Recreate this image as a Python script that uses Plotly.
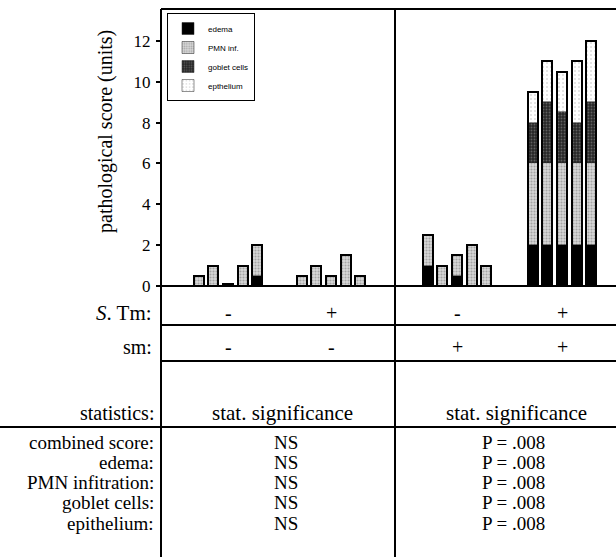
import plotly.graph_objects as go

# ---------------- data ----------------
groups = ["S.Tm- sm-", "S.Tm+ sm-", "S.Tm- sm+", "S.Tm+ sm+"]
stm_signs = ["-", "+", "-", "+"]
sm_signs = ["-", "-", "+", "+"]

edema = [[0, 0, 0.1, 0, 0.5],
         [0, 0, 0, 0, 0],
         [1.0, 0, 0.5, 0, 0],
         [2, 2, 2, 2, 2]]
pmn = [[0.5, 1.0, 0, 1.0, 1.5],
       [0.5, 1.0, 0.5, 1.5, 0.5],
       [1.5, 1.0, 1.0, 2.0, 1.0],
       [4, 4, 4, 4, 4]]
goblet = [[0, 0, 0, 0, 0],
          [0, 0, 0, 0, 0],
          [0, 0, 0, 0, 0],
          [2, 3, 2.5, 2, 3]]
epithelium = [[0, 0, 0, 0, 0],
              [0, 0, 0, 0, 0],
              [0, 0, 0, 0, 0],
              [1.5, 2, 2, 3, 3]]

yticks = [0, 2, 4, 6, 8, 10, 12]

stat_rows = ["combined score:", "edema:", "PMN infitration:", "goblet cells:", "epithelium:"]
stat_left = ["NS", "NS", "NS", "NS", "NS"]
stat_right = ["P = .008", "P = .008", "P = .008", "P = .008", "P = .008"]

# ---------------- layout constants ----------------
W, H = 616, 557
L, T, B0 = 161, 9, 286          # plot left, top, zero line (px)
PX_PER_UNIT = 20.42
group_centers = [67, 170, 296, 401]   # px from left axis
bar_step = 14.6
bar_w = 10
SERIF = "Liberation Serif"


def xp(px):
    return (px - L) / (W - L)


def yp(py):
    return (B0 - py) / (B0 - T)


xs = []
for g, c in enumerate(group_centers):
    for i in range(5):
        xs.append(c + (i - 2) * bar_step)


def flat(a):
    return [v for row in a for v in row]


series = [
    ("edema", flat(edema), dict(color="black", pattern=dict(shape=""))),
    ("PMN inf.", flat(pmn), dict(color="#d0d0d0",
                                 pattern=dict(shape=".", fgcolor="#707070", bgcolor="#d8d8d8",
                                              size=3, solidity=0.4))),
    ("goblet cells", flat(goblet), dict(color="#3a3a3a",
                                        pattern=dict(shape=".", fgcolor="#9a9a9a", bgcolor="#262626",
                                                     size=3, solidity=0.3))),
    ("epthelium", flat(epithelium), dict(color="white",
                                         pattern=dict(shape=".", fgcolor="#b8b8b8", bgcolor="white",
                                                      size=4, solidity=0.2))),
]

fig = go.Figure()
for name, vals, mk in series:
    fig.add_trace(go.Bar(
        x=xs, y=vals, name=name, width=bar_w,
        marker=dict(line=dict(color="#222", width=0.5), **mk),
        hoverinfo="skip",
    ))

totals = [sum(v) for v in zip(*[s[1] for s in series])]
fig.add_trace(go.Bar(
    x=xs, y=totals, width=bar_w, xaxis="x2", showlegend=False,
    marker=dict(color="rgba(0,0,0,0)", line=dict(color="black", width=2)),
    hoverinfo="skip",
))

xr = [0, W - L]
yr = [0, (B0 - T) / PX_PER_UNIT]

shapes = []


def hline(py, x0, x1, w=2):
    shapes.append(dict(type="line", xref="paper", yref="paper",
                       x0=xp(x0), x1=xp(x1), y0=yp(py), y1=yp(py),
                       line=dict(color="black", width=w)))


def vline(px, y0, y1, w=2):
    shapes.append(dict(type="line", xref="paper", yref="paper",
                       x0=xp(px), x1=xp(px), y0=yp(y0), y1=yp(y1),
                       line=dict(color="black", width=w)))


hline(T, L, W)
hline(B0, L, W)
hline(325, L, W)
hline(361, L, W)
hline(427, 0, W)
vline(L, T, H)
vline(395, T, H)

ann = []


def text(s, px, py, size=20, xanchor="center", **kw):
    ann.append(dict(text=s, x=xp(px), y=yp(py), xref="paper", yref="paper",
                    xanchor=xanchor, yanchor="middle", showarrow=False,
                    font=dict(family=SERIF, size=size, color="black"), **kw))


# y-axis title
text("pathological score (units)", 105, 132, size=20, textangle=-90)

# row labels
text("<i>S</i>. Tm:", 154, 313, size=21, xanchor="right")
text("sm:", 154, 347, size=20, xanchor="right")
text("statistics:", 156, 413, size=20, xanchor="right")
for j, lab in enumerate(stat_rows):
    text(lab, 156, 442 + j * 20.3, size=19, xanchor="right")

for g, c in enumerate(group_centers):
    text(stm_signs[g], L + c, 313, size=20)
    text(sm_signs[g], L + c, 347, size=20)

text("stat. significance", 282, 413, size=21)
text("stat. significance", 516, 413, size=21)
for j in range(len(stat_rows)):
    text(stat_left[j], 286, 442 + j * 20.3, size=19)
    text(stat_right[j], 513, 442 + j * 20.3, size=19)

fig.update_layout(
    width=W, height=H,
    margin=dict(l=L, r=0, t=T, b=H - B0, pad=0),
    paper_bgcolor="white", plot_bgcolor="white",
    barmode="stack", bargap=0,
    showlegend=True,
    legend=dict(x=xp(167), y=yp(13), xanchor="left", yanchor="top",
                bgcolor="white", bordercolor="black", borderwidth=1,
                font=dict(family="Liberation Sans", size=8, color="black"),
                traceorder="normal", itemwidth=30, tracegroupgap=0),
    xaxis=dict(range=xr, showgrid=False, zeroline=False, showline=False,
               showticklabels=False, ticks="", fixedrange=True),
    xaxis2=dict(range=xr, overlaying="x", visible=False, matches="x"),
    yaxis=dict(range=yr, tickvals=yticks, showgrid=False, zeroline=False,
               showline=False, ticks="outside", ticklen=4, tickwidth=1.5,
               tickcolor="black", ticklabelstandoff=2,
               tickfont=dict(family=SERIF, size=17, color="black")),
    shapes=shapes, annotations=ann,
)

fig.write_html("out.html", config={"displayModeBar": False},
               post_script="document.body.style.margin='0';document.body.style.overflow='hidden';")
